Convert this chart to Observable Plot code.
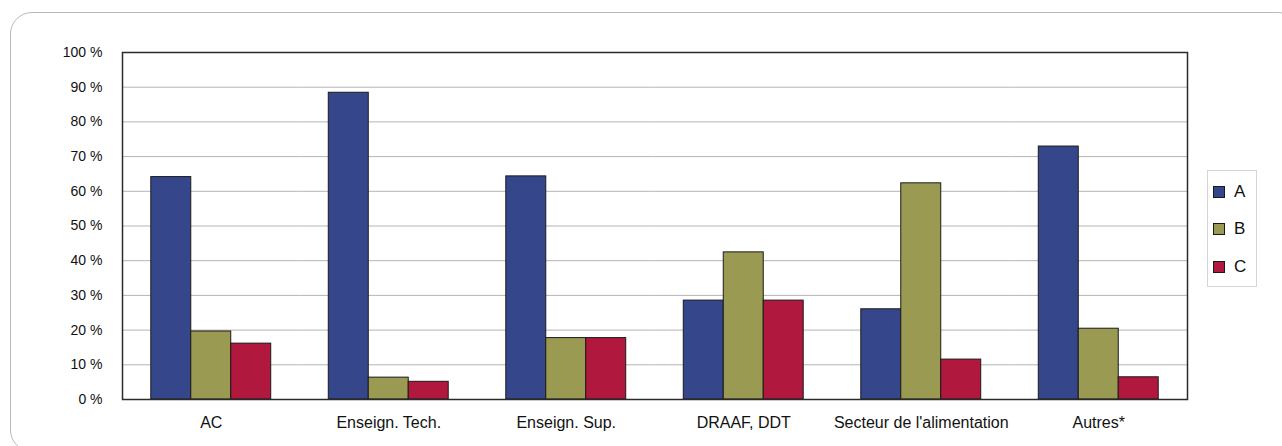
<!DOCTYPE html>
<html>
<head>
<meta charset="utf-8">
<script src="https://cdn.jsdelivr.net/npm/d3@7"></script>
<script src="https://cdn.jsdelivr.net/npm/@observablehq/plot@0.6"></script>
<style>
  html, body { margin: 0; padding: 0; background: #fff; }
  body { width: 1282px; height: 446px; overflow: hidden; position: relative; font-family: "Liberation Sans", Arial, sans-serif; }
  #box { position: absolute; left: 10px; top: 12px; width: 1290px; height: 440px; border: 1px solid #b8b8b8; border-radius: 22px; box-sizing: border-box; }
  #chart { position: absolute; left: 0; top: 0; }
  #legend { position: absolute; left: 1207px; top: 170px; width: 50px; height: 117px; border: 1px solid #d4d4d4; box-sizing: border-box; background: #fff; }
  .item { position: absolute; left: 5px; height: 20px; display: flex; align-items: center; font-size: 17px; color: #111; }
  .sw { width: 10px; height: 10px; border: 1px solid #1a1a1a; margin-right: 9px; }
  #chart svg g[aria-label="fx-axis tick label"] text { font-size: 16px; }
</style>
</head>
<body>
<div id="box"></div>
<div id="chart"></div>
<div id="legend"></div>
<script>
const categories = ["AC", "Enseign. Tech.", "Enseign. Sup.", "DRAAF, DDT", "Secteur de l'alimentation", "Autres*"];
const series = ["A", "B", "C"];
const valuesA = [64.1, 88.4, 64.3, 28.5, 26.0, 72.9];
const valuesB = [19.6, 6.3, 17.7, 42.4, 62.3, 20.4];
const valuesC = [16.1, 5.1, 17.7, 28.5, 11.5, 6.4];
const colors = ["#35478a", "#9a9a52", "#b0183e"];
const yTicks = [0, 10, 20, 30, 40, 50, 60, 70, 80, 90, 100];

const seriesValues = [valuesA, valuesB, valuesC];
const data = [];
categories.forEach((c, i) => {
  series.forEach((s, j) => data.push({cat: c, series: s, value: seriesValues[j][i]}));
});

const chart = Plot.plot({
  width: 1282,
  height: 446,
  marginLeft: 122,
  marginRight: 95,
  marginTop: 52,
  marginBottom: 47,
  style: {fontFamily: "'Liberation Sans', Arial, sans-serif", fontSize: "14px", color: "#111", background: "transparent"},
  fx: {domain: categories, padding: 0, label: null, tickSize: 0, tickPadding: 17, round: false},
  x: {domain: series, axis: null, paddingInner: 0, paddingOuter: 0.72, round: false},
  y: {domain: [0, 100], ticks: yTicks, tickFormat: d => d + " %", tickSize: 0, tickPadding: 20, label: null},
  color: {domain: series, range: colors},
  marks: [
    Plot.ruleY(yTicks.filter(d => d > 0 && d < 100), {stroke: "#b4b4b4", strokeWidth: 1}),
    Plot.barY(data, {fx: "cat", x: "series", y: "value", fill: "series", stroke: "#1a1a1a", strokeWidth: 1}),
    Plot.frame({stroke: "#2a2a2a", strokeWidth: 1.5, facet: "super"})
  ]
});
document.getElementById("chart").appendChild(chart);

const legend = document.getElementById("legend");
const legendTops = [11, 48, 86];
series.forEach((s, i) => {
  const it = document.createElement("div");
  it.className = "item";
  it.style.top = legendTops[i] + "px";
  const sw = document.createElement("div");
  sw.className = "sw";
  sw.style.background = colors[i];
  it.appendChild(sw);
  const t = document.createElement("span");
  t.textContent = s;
  it.appendChild(t);
  legend.appendChild(it);
});
</script>
</body>
</html>
